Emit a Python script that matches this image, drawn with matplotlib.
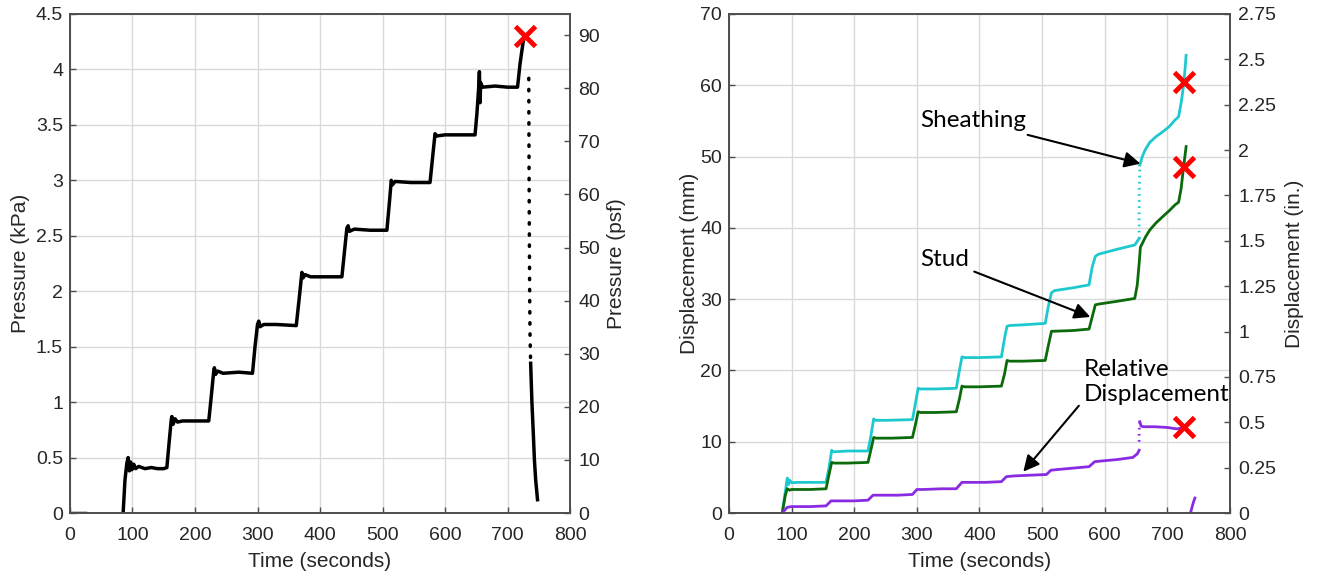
import numpy as np
import matplotlib
matplotlib.use('Agg')
import matplotlib.pyplot as plt
from matplotlib.ticker import FuncFormatter

plt.rcParams['font.family'] = ['Liberation Sans', 'DejaVu Sans']
plt.rcParams['font.size'] = 14

# ---- data: pressure (kPa) vs time (s) ----
t_start = [0, 24]
p_start = [0, 0]

t_press = [85, 88, 91, 93, 95, 97, 99, 102, 105, 110, 120, 130, 140, 150, 155,
           158, 162, 163, 165, 168, 172, 180, 200, 222,
           226, 230, 231, 233, 236, 245, 270, 292,
           296, 300, 302, 304, 310, 330, 362,
           367, 371, 373, 376, 385, 410, 435,
           439, 443, 445, 447, 455, 480, 507,
           511, 514, 516, 520, 545, 576,
           580, 584, 587, 600, 625, 648,
           651, 654, 655, 656, 657, 660, 680, 700, 716,
           720, 725, 728]
p_press = [0, 0.30, 0.45, 0.50, 0.38, 0.46, 0.39, 0.44, 0.40, 0.42, 0.40, 0.41, 0.40, 0.40, 0.41,
           0.60, 0.84, 0.87, 0.80, 0.85, 0.82, 0.83, 0.83, 0.83,
           1.05, 1.28, 1.31, 1.25, 1.28, 1.26, 1.27, 1.26,
           1.50, 1.70, 1.73, 1.68, 1.70, 1.70, 1.69,
           1.95, 2.17, 2.12, 2.15, 2.13, 2.13, 2.13,
           2.35, 2.57, 2.59, 2.54, 2.56, 2.55, 2.55,
           2.80, 3.00, 2.96, 2.99, 2.98, 2.98,
           3.20, 3.42, 3.40, 3.41, 3.41, 3.41,
           3.60, 3.85, 3.98, 3.70, 3.88, 3.84, 3.85, 3.84, 3.84,
           4.05, 4.25, 4.30]

t_drop_dots = [734, 734.5, 735, 735.5, 736, 737]
p_drop_dots = [3.92, 3.0, 2.4, 1.9, 1.6, 1.35]
t_drop = [737, 739, 741, 743, 745, 748]
p_drop = [1.35, 1.0, 0.75, 0.48, 0.30, 0.12]

fail_press = (728, 4.30)

# ---- data: displacement (mm) vs time (s) ----
t_zero = [0, 85]

t_sheath = [85, 90, 93, 95, 97, 100, 110, 130, 155,
            160, 164, 166, 170, 190, 222,
            227, 231, 234, 250, 293,
            298, 302, 305, 330, 363,
            368, 372, 376, 400, 435,
            440, 444, 448, 470, 505,
            510, 515, 520, 550, 575,
            580, 585, 590, 620, 648, 655]
y_sheath = [0, 3.0, 4.9, 4.0, 4.6, 4.25, 4.3, 4.3, 4.3,
            6.5, 8.8, 8.6, 8.6, 8.7, 8.7,
            11.0, 13.2, 13.0, 13.0, 13.1,
            15.5, 17.5, 17.4, 17.4, 17.5,
            20.0, 21.9, 21.8, 21.8, 21.9,
            24.5, 26.2, 26.3, 26.4, 26.6,
            29.0, 30.9, 31.2, 31.6, 32.0,
            34.5, 36.0, 36.3, 37.0, 37.6, 38.5]
t_sheath_dots = [655, 655, 656]
y_sheath_dots = [38.5, 44.0, 48.8]
t_sheath2 = [656, 660, 665, 672, 682, 693, 703, 712, 718, 722, 726, 728, 730]
y_sheath2 = [48.8, 50.0, 51.0, 52.0, 52.8, 53.5, 54.2, 55.1, 55.6, 57.5, 60.0, 62.0, 64.2]

t_stud = [85, 90, 93, 97, 100, 110, 130, 155,
          160, 164, 168, 190, 222,
          227, 231, 235, 260, 293,
          298, 302, 306, 330, 363,
          368, 372, 376, 400, 435,
          440, 444, 448, 470, 505,
          510, 515, 520, 550, 575,
          580, 585, 590, 620, 648,
          652, 655, 657, 660, 665, 672, 682, 693, 703, 712, 718, 722, 726, 728, 730]
y_stud = [0, 2.5, 3.4, 3.2, 3.3, 3.3, 3.3, 3.4,
          5.5, 7.1, 7.0, 7.0, 7.1,
          9.0, 10.6, 10.5, 10.5, 10.6,
          12.5, 14.2, 14.1, 14.1, 14.2,
          16.0, 17.8, 17.7, 17.7, 17.8,
          19.5, 21.4, 21.3, 21.3, 21.4,
          23.5, 25.5, 25.5, 25.6, 25.8,
          27.5, 29.2, 29.3, 29.7, 30.1,
          32.0, 35.0, 37.3, 37.8, 38.7, 39.7, 40.7, 41.6, 42.4, 43.2, 43.6, 45.5, 48.6, 50.0, 51.4]

t_rel = [85, 93, 100, 130, 155,
         163, 170, 200, 222,
         230, 240, 270, 293,
         300, 310, 340, 363,
         372, 380, 410, 435,
         443, 455, 480, 507,
         514, 525, 550, 575,
         584, 595, 620, 645, 652, 655]
y_rel = [0, 0.8, 0.9, 0.9, 1.0,
         1.7, 1.7, 1.7, 1.8,
         2.5, 2.5, 2.5, 2.6,
         3.3, 3.3, 3.4, 3.4,
         4.3, 4.3, 4.3, 4.4,
         5.1, 5.2, 5.3, 5.4,
         6.0, 6.1, 6.3, 6.5,
         7.2, 7.3, 7.5, 7.8, 8.3, 8.8]
t_rel_dots = [655, 655, 655, 656]
y_rel_dots = [10.0, 10.7, 11.6, 12.8]
t_rel2 = [656, 658, 662, 680, 700, 715, 722, 727, 730]
y_rel2 = [12.8, 12.2, 12.1, 12.1, 12.0, 11.8, 11.9, 12.0, 12.3]
t_rel3 = [737, 740, 742, 744]
y_rel3 = [0, 1.0, 1.6, 2.1]

fail_sheath = (727, 60.5)
fail_stud = (727, 48.6)
fail_rel = (727, 12.0)

KPA_TO_PSF = 20.885

cyan = '#1ec8cf'
green = '#0b6b0b'
purple = '#8a2be2'
spine_col = '#4d4d4d'
tick_col = '#262626'


def style_axes(ax, twin):
    for a in (ax, twin):
        for s in a.spines.values():
            s.set_color(spine_col)
            s.set_linewidth(1.2)
        a.tick_params(direction='in', length=4, width=1, colors=spine_col,
                      labelcolor=tick_col, labelsize=14)
    ax.tick_params(axis='x', pad=10)
    ax.tick_params(axis='y', pad=5)
    twin.tick_params(axis='y', pad=6)
    ax.grid(True, color='#d9d9d9', linewidth=1)
    ax.set_axisbelow(True)


fig = plt.figure(figsize=(13.18, 5.73), dpi=100)

# ---------- left: pressure ----------
ax1 = fig.add_axes([0.0531, 0.1047, 0.3794, 0.8709])
ax1r = ax1.twinx()
ax1.plot(t_start, p_start, color='black', lw=2.5)
ax1.plot(t_press, p_press, color='black', lw=2.5)
ax1.plot(t_drop_dots, p_drop_dots, color='black', lw=2.5, linestyle=(0, (0.4, 2.8)),
         dash_capstyle='round')
ax1.plot(t_drop, p_drop, color='black', lw=2.5)
ax1.plot(*fail_press, marker='x', color='red', markersize=15, markeredgewidth=3.5)
ax1.set_xlim(0, 800)
ax1.set_ylim(0, 4.5)
ax1.set_xticks(np.arange(0, 801, 100))
ax1.set_yticks(np.arange(0, 4.51, 0.5))
ax1.yaxis.set_major_formatter(FuncFormatter(lambda v, p: f'{v:g}'))
ax1r.set_ylim(0, 4.5 * KPA_TO_PSF)
ax1r.set_yticks(np.arange(0, 91, 10))
ax1.set_xlabel('Time (seconds)', fontsize=15, color=tick_col, labelpad=6)
ax1.set_ylabel('Pressure (kPa)', fontsize=15, color=tick_col, labelpad=4)
ax1r.set_ylabel('Pressure (psf)', fontsize=15, color=tick_col, labelpad=5)
style_axes(ax1, ax1r)

# ---------- right: displacement ----------
ax2 = fig.add_axes([0.5531, 0.1047, 0.3801, 0.8709])
ax2r = ax2.twinx()
ax2.plot(t_zero, [0, 0], color=purple, lw=2)
ax2.plot(t_sheath, y_sheath, color=cyan, lw=2)
ax2.plot(t_sheath_dots, y_sheath_dots, color=cyan, lw=2, linestyle=(0, (0.6, 1.6)))
ax2.plot(t_sheath2, y_sheath2, color=cyan, lw=2)
ax2.plot(t_stud, y_stud, color=green, lw=2)
ax2.plot(t_rel, y_rel, color=purple, lw=2)
ax2.plot(t_rel_dots, y_rel_dots, color=purple, lw=2, linestyle=(0, (0.6, 1.6)))
ax2.plot(t_rel2, y_rel2, color=purple, lw=2)
ax2.plot(t_rel3, y_rel3, color=purple, lw=2)
for pt in (fail_sheath, fail_stud, fail_rel):
    ax2.plot(*pt, marker='x', color='red', markersize=15, markeredgewidth=3.5)
ax2.set_xlim(0, 800)
ax2.set_ylim(0, 70)
ax2.set_xticks(np.arange(0, 801, 100))
ax2.set_yticks(np.arange(0, 71, 10))
ax2r.set_ylim(0, 2.75)
ax2r.set_yticks(np.arange(0, 2.76, 0.25))
ax2r.yaxis.set_major_formatter(FuncFormatter(lambda v, p: f'{v:g}'))
ax2.set_xlabel('Time (seconds)', fontsize=15, color=tick_col, labelpad=6)
ax2.set_ylabel('Displacement (mm)', fontsize=15, color=tick_col, labelpad=1)
ax2r.set_ylabel('Displacement (in.)', fontsize=15, color=tick_col, labelpad=6)
style_axes(ax2, ax2r)

arrow = dict(arrowstyle='-|>', color='black', lw=1.5, mutation_scale=24,
             shrinkA=2, shrinkB=0)
note_font = ['Lato', 'DejaVu Sans']
ax2.annotate('Sheathing', xy=(657, 49.0), xytext=(305, 55.0), fontsize=17.5,
             family=note_font, va='center', ha='left', arrowprops=arrow)
ax2.annotate('Stud', xy=(577, 27.5), xytext=(305, 35.5), fontsize=17.5,
             family=note_font, va='center', ha='left', arrowprops=arrow)
ax2.annotate('Relative\nDisplacement', xy=(470, 5.8), xytext=(566, 18.4), fontsize=17.5,
             family=note_font, va='center', ha='left', linespacing=1.25,
             arrowprops=dict(arrow, relpos=(0, 0.1)))

fig.savefig('out.png', dpi=100)
